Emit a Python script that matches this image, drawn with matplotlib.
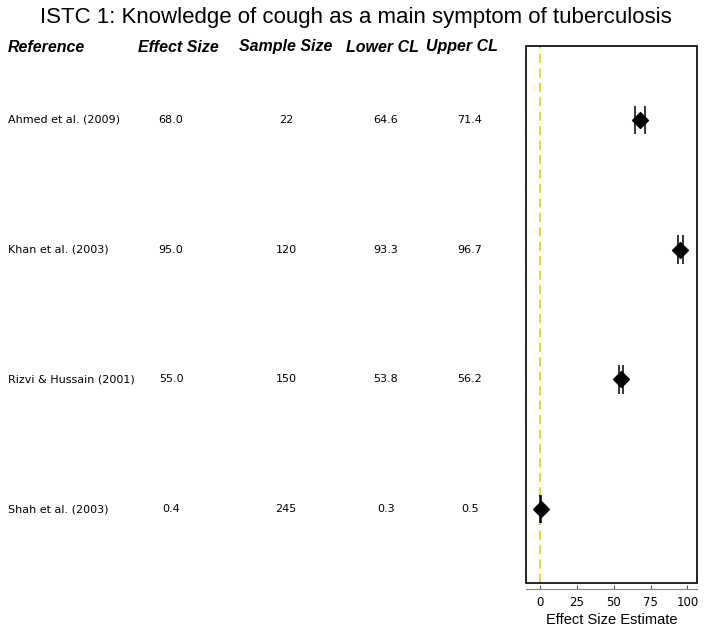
import numpy as np
import matplotlib
matplotlib.use('Agg')
import matplotlib.pyplot as plt
from matplotlib.patches import Rectangle
from matplotlib.transforms import blended_transform_factory

# data
studies = ['Ahmed et al. (2009)', 'Khan et al. (2003)', 'Rizvi & Hussain (2001)', 'Shah et al. (2003)']
effect = [68.0, 95.0, 55.0, 0.4]
sample = [22, 120, 150, 245]
lower = [64.6, 93.3, 53.8, 0.3]
upper = [71.4, 96.7, 56.2, 0.5]
headers = ['Reference', 'Effect Size', 'Sample Size', 'Lower CL', 'Upper CL']
xticks = [0, 25, 50, 75, 100]

W, H = 711, 637
fig = plt.figure(figsize=(W / 100, H / 100), dpi=100)
ax = fig.add_axes([526 / W, 1 - 583 / H, 171 / W, 537 / H])

n = len(studies)
ypos = np.arange(n, 0, -1)

ax.axvline(0, color='#f2cf1f', ls=(0, (5, 3)), lw=1.3, zorder=1)
for y, e, lo, hi in zip(ypos, effect, lower, upper):
    ax.vlines([lo, hi], y - 0.11, y + 0.11, color='black', lw=1.1, zorder=2)
ax.scatter(effect, ypos, marker='D', s=65, color='black', zorder=3)

ax.set_xlim(-9.5, 106.5)
ax.set_ylim(0.43, n + 0.57)
ax.set_yticks([])
ax.set_xticks(xticks)
ax.tick_params(axis='x', colors='#555555', labelcolor='black', labelsize=8.5,
               length=3, direction='in', pad=5)
for lab in ax.get_xticklabels():
    lab.set_fontfamily('DejaVu Sans Mono')
    lab.set_fontweight('bold')
for s in ['left', 'right', 'top']:
    ax.spines[s].set_visible(False)
ax.spines['bottom'].set_position(('outward', 4))
ax.spines['bottom'].set_color('#888888')
ax.add_patch(Rectangle((0, 0), 1, 1, transform=ax.transAxes, fill=False,
                       edgecolor='black', lw=1.2, clip_on=False, zorder=4))
ax.set_xlabel('Effect Size Estimate', fontsize=10.5, fontfamily='Liberation Sans', labelpad=3)

fig.text(0.5, 1 - 18 / H, 'ISTC 1: Knowledge of cough as a main symptom of tuberculosis',
         ha='center', va='center', fontsize=16, fontfamily='Liberation Sans')

# header columns: (x pixel, alignment)
hx = [(8, 'left'), (178, 'center'), (286, 'center'), (382, 'center'), (462, 'center')]
for (x, ha), h in zip(hx, headers):
    fig.text(x / W, 1 - 47 / H, h, ha=ha, va='center', fontsize=11.5,
             fontweight='bold', fontstyle='italic', fontfamily='Liberation Sans')

tr = blended_transform_factory(fig.transFigure, ax.transData)
for y, s, e, m, lo, hi in zip(ypos, studies, effect, sample, lower, upper):
    kw = dict(transform=tr, va='center', fontsize=8, fontfamily='DejaVu Sans')
    fig.text(8 / W, y, s, ha='left', **kw)
    fig.text(171 / W, y, f'{e:.1f}', ha='center', **kw)
    fig.text(286 / W, y, f'{m}', ha='center', **kw)
    fig.text(386 / W, y, f'{lo:.1f}', ha='center', **kw)
    fig.text(470 / W, y, f'{hi:.1f}', ha='center', **kw)

fig.savefig('out.png', dpi=100)
